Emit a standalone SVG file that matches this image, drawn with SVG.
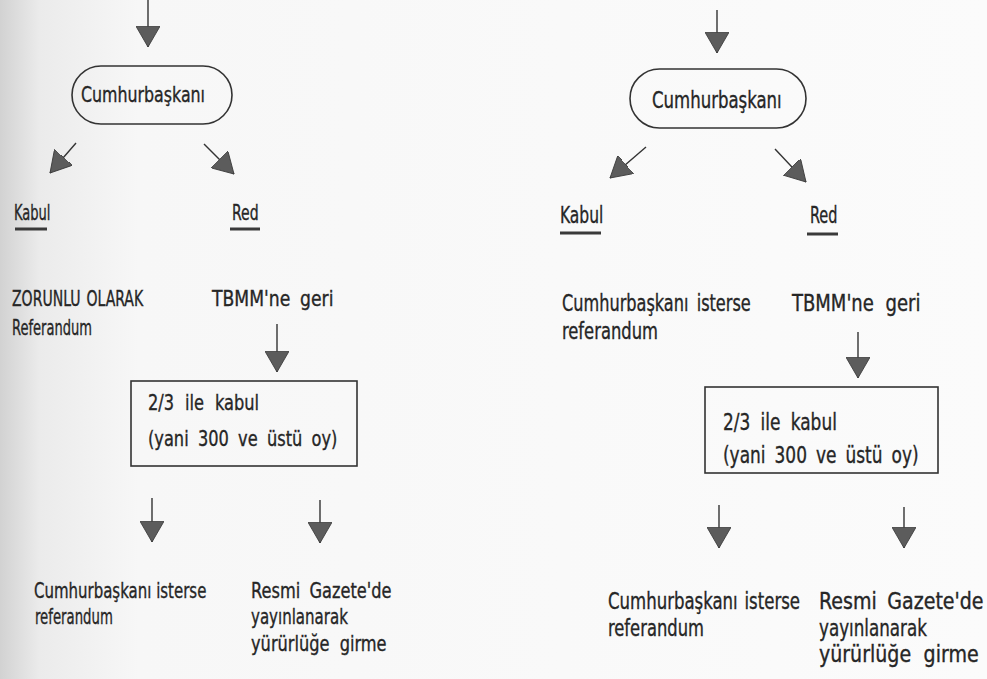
<svg xmlns="http://www.w3.org/2000/svg" width="987" height="679" viewBox="0 0 987 679">
  <defs>
    <linearGradient id="shade" x1="0" y1="0" x2="987" y2="0" gradientUnits="userSpaceOnUse">
      <stop offset="0" stop-color="#d2d2d2"/>
      <stop offset="0.04" stop-color="#ebebeb"/>
      <stop offset="0.14" stop-color="#f7f7f7"/>
      <stop offset="1" stop-color="#fbfbfb"/>
    </linearGradient>
    <marker id="ah" markerUnits="userSpaceOnUse" markerWidth="22" markerHeight="24" refX="19" refY="11" orient="auto" viewBox="0 0 20 22">
      <path d="M0,0 L19,11 L0,22 Z" fill="#5c5c5c" stroke="#3c3c3c" stroke-width="0.8"/>
    </marker>
    <style>
      .t { font-family: "DejaVu Sans Condensed", "DejaVu Sans", sans-serif; font-size: 22px; fill: #262626; stroke: #262626; stroke-width: 0.35px; }
      .tr { font-size: 23px; }
      .ln { stroke: #333; stroke-width: 1.4; fill: none; marker-end: url(#ah); }
      .box { fill: none; stroke: #333; stroke-width: 1.6; }
      .ul { stroke: #3a3a3a; stroke-width: 3; }
    </style>
  </defs>

  <rect x="0" y="0" width="987" height="679" fill="url(#shade)"/>

  <g id="connectors">
    <!-- left diagram -->
    <line class="ln" x1="148" y1="0" x2="148" y2="47"/>
    <line class="ln" x1="76" y1="143" x2="50" y2="173"/>
    <line class="ln" x1="204" y1="144" x2="234" y2="174"/>
    <line class="ln" x1="277" y1="324" x2="277" y2="372"/>
    <line class="ln" x1="152" y1="498" x2="152" y2="542"/>
    <line class="ln" x1="320" y1="500" x2="320" y2="543"/>
    <!-- right diagram -->
    <line class="ln" x1="717" y1="10" x2="717" y2="53"/>
    <line class="ln" x1="646" y1="147" x2="610" y2="178"/>
    <line class="ln" x1="775" y1="149" x2="806" y2="182"/>
    <line class="ln" x1="858" y1="332" x2="858" y2="378"/>
    <line class="ln" x1="719" y1="505" x2="719" y2="548"/>
    <line class="ln" x1="904" y1="507" x2="904" y2="548"/>
  </g>

  <!-- LEFT DIAGRAM -->
  <g id="l-cumhurbaskani">
    <rect x="72" y="66" width="160" height="58" rx="29" ry="29" class="box"/>
    <text class="t" transform="translate(81,102) scale(0.80,1)">Cumhurbaşkanı</text>
  </g>
  <g id="l-kabul">
    <text class="t" transform="translate(14,220) scale(0.66,1)">Kabul</text>
    <line class="ul" x1="15" y1="229" x2="47" y2="229"/>
  </g>
  <g id="l-red">
    <text class="t" transform="translate(232,220) scale(0.71,1)">Red</text>
    <line class="ul" x1="230" y1="229" x2="260" y2="229"/>
  </g>
  <g id="l-zorunlu">
    <text class="t" transform="translate(12,306) scale(0.71,1)" style="word-spacing:2px">ZORUNLU OLARAK</text>
    <text class="t" transform="translate(12,335) scale(0.66,1)">Referandum</text>
  </g>
  <g id="l-tbmm">
    <text class="t" transform="translate(212,306) scale(0.87,1)" style="word-spacing:5px">TBMM'ne geri</text>
  </g>
  <g id="l-kabul23">
    <rect x="131" y="381" width="226" height="85" class="box"/>
    <text class="t" transform="translate(148,410) scale(0.82,1)" style="word-spacing:7px">2/3 ile kabul</text>
    <text class="t" transform="translate(148,446) scale(0.82,1)" style="word-spacing:5px">(yani 300 ve üstü oy)</text>
  </g>
  <g id="l-referandum">
    <text class="t" transform="translate(34,598) scale(0.757,1)">Cumhurbaşkanı isterse</text>
    <text class="t" transform="translate(35,624) scale(0.67,1)">referandum</text>
  </g>
  <g id="l-resmigazete">
    <text class="t" transform="translate(251,598) scale(0.82,1)" style="word-spacing:5px">Resmi Gazete'de</text>
    <text class="t" transform="translate(251,624) scale(0.76,1)">yayınlanarak</text>
    <text class="t" transform="translate(251,651) scale(0.82,1)" style="word-spacing:6px">yürürlüğe girme</text>
  </g>

  <!-- RIGHT DIAGRAM -->
  <g id="r-cumhurbaskani">
    <rect x="630" y="69" width="176" height="59" rx="29.5" ry="29.5" class="box"/>
    <text class="t tr" transform="translate(652,108) scale(0.80,1)">Cumhurbaşkanı</text>
  </g>
  <g id="r-kabul">
    <text class="t tr" transform="translate(560,223) scale(0.75,1)">Kabul</text>
    <line class="ul" x1="560" y1="233" x2="601" y2="233"/>
  </g>
  <g id="r-red">
    <text class="t tr" transform="translate(810,223) scale(0.70,1)">Red</text>
    <line class="ul" x1="807" y1="234" x2="838" y2="234"/>
  </g>
  <g id="r-isterse">
    <text class="t tr" transform="translate(562,311) scale(0.78,1)" style="word-spacing:4px">Cumhurbaşkanı isterse</text>
    <text class="t tr" transform="translate(562,339) scale(0.79,1)">referandum</text>
  </g>
  <g id="r-tbmm">
    <text class="t tr" transform="translate(792,311) scale(0.87,1)" style="word-spacing:7px">TBMM'ne geri</text>
  </g>
  <g id="r-kabul23">
    <rect x="705" y="387" width="233" height="86" class="box"/>
    <text class="t tr" transform="translate(723,430) scale(0.82,1)" style="word-spacing:6px">2/3 ile kabul</text>
    <text class="t tr" transform="translate(723,463) scale(0.82,1)" style="word-spacing:4.5px">(yani 300 ve üstü oy)</text>
  </g>
  <g id="r-referandum">
    <text class="t tr" transform="translate(608,609) scale(0.80,1)" style="word-spacing:2px">Cumhurbaşkanı isterse</text>
    <text class="t tr" transform="translate(608,636) scale(0.79,1)">referandum</text>
  </g>
  <g id="r-resmigazete">
    <text class="t tr" transform="translate(819,609) scale(0.92,1)" style="word-spacing:5px">Resmi Gazete'de</text>
    <text class="t tr" transform="translate(819,636) scale(0.81,1)">yayınlanarak</text>
    <text class="t tr" transform="translate(819,662) scale(0.92,1)" style="word-spacing:7px">yürürlüğe girme</text>
  </g>
</svg>
